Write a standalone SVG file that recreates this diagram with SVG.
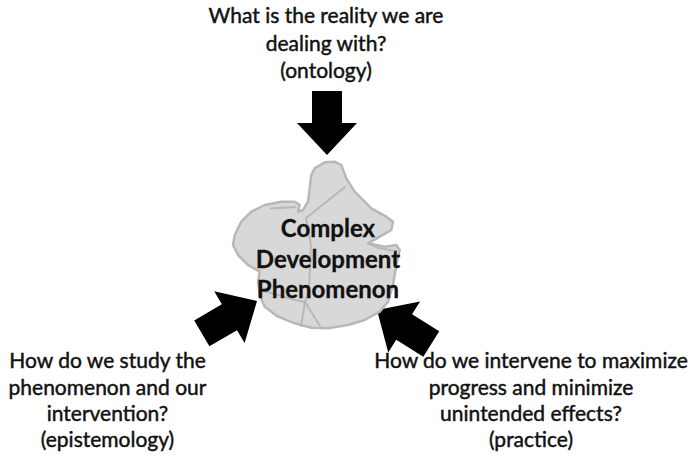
<svg xmlns="http://www.w3.org/2000/svg" xmlns:xlink="http://www.w3.org/1999/xlink" width="690" height="457" viewBox="0 0 690 457">
<style>
.lbl{font-family:Lato,"Liberation Sans",sans-serif;font-size:21px;fill:#111;stroke:#111;stroke-width:0.45;text-anchor:middle}
.ctr{font-family:Lato,"Liberation Sans",sans-serif;font-size:24px;font-weight:bold;fill:#111;stroke:#111;stroke-width:0.3;text-anchor:middle}
.blob{fill:#d8d8d8;stroke:#b8b8b8;stroke-width:2.5;stroke-linejoin:round}
.vein{fill:none;stroke:#b8b8b8;stroke-width:2;stroke-linecap:round}
.arrow{fill:#000}
</style>
<defs>
<path id="fatArrow" class="arrow" d="M0,0 L-32,-30 L-32,-15 L-64,-15 L-64,15 L-32,15 L-32,30 Z"/>
</defs>
<rect width="690" height="457" fill="#fff"/>
<g id="connectors">
<use xlink:href="#fatArrow" transform="translate(327,155) rotate(90)"/>
<use xlink:href="#fatArrow" transform="translate(257,301) rotate(-30.4)"/>
<use xlink:href="#fatArrow" transform="translate(377,310) rotate(212)"/>
</g>
<g id="node-phenomenon">
<path class="blob" d="M314.7,168.3 L324.7,162.3 L334.7,161.7 L341.3,165 L346.3,178.3 L354.7,191.7 L371.3,208.3 L386.3,216.7 L393,221.7 L391.3,230 L379.7,236.7 L368,243.3 L384.7,246.7 L396.3,245 L399.7,250 L396.3,265 L393,285 L388,301.7 L379.7,311.7 L364.7,320 L348,325 L328,328.3 L311.3,327.7 L294.7,323.3 L278,316.7 L264.7,306.7 L259.7,295 L258,281.7 L259.7,271.7 L248,265 L238,255 L233,245 L234.7,235 L241.3,221.7 L251.3,211.7 L264.7,205 L281.3,201.7 L294.7,201.7 L299.7,205 L298,211.7 L303,210 L308,201.7 L309.7,188.3 L311.3,175 Z"/>
<path class="vein" d="M306,218 L345,187"/>
<path class="vein" d="M271,208.5 L295,207"/>
<path class="vein" d="M306,218 L311,245 L309,290 L305,302 L301,326"/>
<path class="vein" d="M305,302 L320,326"/>
<path class="vein" d="M260,290 L296,300 L305,302"/>
<path class="vein" d="M368,243.3 L378,248 L396,251"/>
<text class="ctr" x="328" y="237">Complex</text>
<text class="ctr" x="328" y="268">Development</text>
<text class="ctr" x="328" y="298">Phenomenon</text>
</g>
<g id="node-ontology">
<text class="lbl" x="326" y="23">What is the reality we are</text>
<text class="lbl" x="326" y="51">dealing with?</text>
<text class="lbl" x="326" y="78">(ontology)</text>
</g>
<g id="node-epistemology">
<text class="lbl" x="107.5" y="368">How do we study the</text>
<text class="lbl" x="107.5" y="395">phenomenon  and our</text>
<text class="lbl" x="107.5" y="421">intervention?</text>
<text class="lbl" x="107.5" y="447">(epistemology)</text>
</g>
<g id="node-practice">
<text class="lbl" x="531" y="368">How do we intervene  to maximize</text>
<text class="lbl" x="531" y="395">progress and minimize</text>
<text class="lbl" x="531" y="421">unintended  effects?</text>
<text class="lbl" x="531" y="447">(practice)</text>
</g>
</svg>
